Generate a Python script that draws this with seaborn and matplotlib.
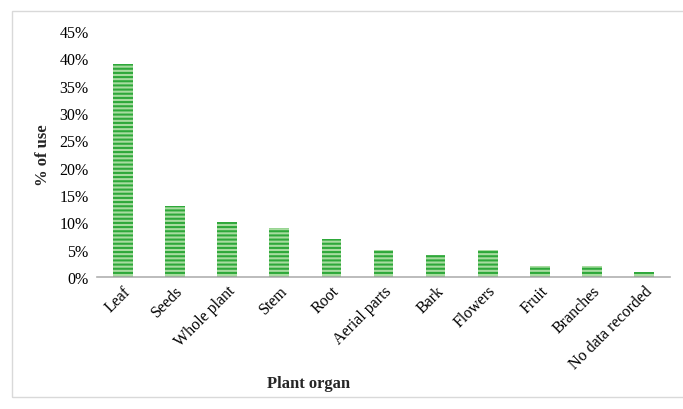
#!/usr/bin/env python3
"""Plant organ usage bar chart."""

import pandas as pd
import matplotlib.pyplot as plt
import seaborn as sns
from matplotlib.patches import Rectangle
from matplotlib.ticker import PercentFormatter

# Data
organs = ['Leaf', 'Seeds', 'Whole plant', 'Stem', 'Root', 'Aerial parts',
          'Bark', 'Flowers', 'Fruit', 'Branches', 'No data recorded']
use_pct = [39, 13, 10, 9, 7, 5, 4, 5, 2, 2, 1]

df = pd.DataFrame({'Organ': organs, 'Use': [v / 100 for v in use_pct]})

sns.set_theme(style="white")
plt.rcParams['font.family'] = ['Liberation Serif', 'DejaVu Serif']
plt.rcParams['hatch.linewidth'] = 1.5

fig = plt.figure(figsize=(6.83, 4.1), dpi=100)
ax = fig.add_axes([0.142, 0.322, 0.839, 0.600])

sns.barplot(data=df, x='Organ', y='Use', ax=ax, color='#a8dca0',
            width=0.38, saturation=1)
for bar in ax.patches:
    bar.set_hatch('----')
    bar.set_edgecolor('#2ea83a')
    bar.set_linewidth(0)

ax.set_ylim(0, 0.45)
ax.set_yticks([i * 0.05 for i in range(10)])
ax.yaxis.set_major_formatter(PercentFormatter(1.0, decimals=0))
ax.set_xlim(-0.5, len(organs) - 0.5)

for side in ['top', 'right', 'left']:
    ax.spines[side].set_visible(False)
ax.spines['bottom'].set_color('#b0b0b0')
ax.spines['bottom'].set_linewidth(1.2)
ax.tick_params(axis='both', length=0, labelsize=11.5, colors='black')
ax.tick_params(axis='y', pad=6)
ax.tick_params(axis='x', pad=4)
plt.setp(ax.get_xticklabels(), rotation=45, ha='right', rotation_mode='anchor')

ax.set_ylabel('% of use', fontsize=12, fontweight='bold', labelpad=6)
ax.set_xlabel('Plant organ', fontsize=12, fontweight='bold')
ax.xaxis.set_label_coords(0.37, -0.40)

# light frame around the chart area
fig.patches.append(Rectangle((12 / 683, 12 / 410), 1.0, 1 - 24 / 410,
                             transform=fig.transFigure, fill=False,
                             edgecolor='#d9d9d9', linewidth=1))

fig.savefig('out.png', dpi=100)
